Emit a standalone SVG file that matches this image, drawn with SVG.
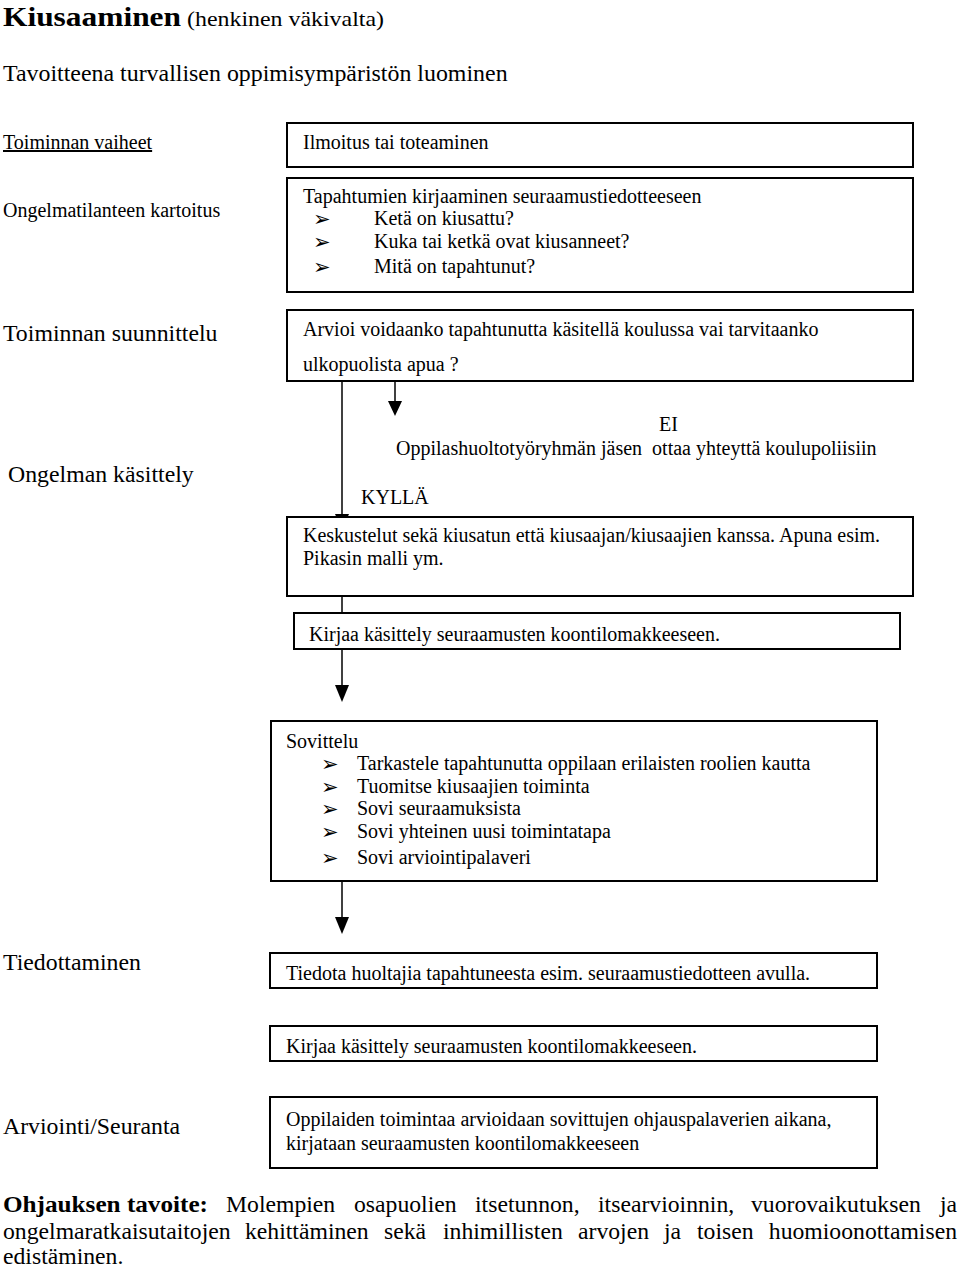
<svg xmlns="http://www.w3.org/2000/svg" width="960" height="1269" viewBox="0 0 960 1269">
<style>
text{font-family:"Liberation Serif","Times New Roman",serif;fill:#000}
.t{font-size:20px}
.l{font-size:20px}
.L{font-size:23.8px}
.p{font-size:23.7px}
.b{font-family:"DejaVu Sans",sans-serif;font-size:21px}
.box{fill:#fff;stroke:#000;stroke-width:2}
.ln{stroke:#000;stroke-width:1.5;fill:none}
.ah{fill:#000}
</style>
<defs>
<clipPath id="c5"><rect x="294" y="613" width="606" height="36"/></clipPath>
<clipPath id="c7"><rect x="270" y="953" width="607" height="35"/></clipPath>
<clipPath id="c8"><rect x="270" y="1026" width="607" height="35"/></clipPath>
</defs>
<rect width="960" height="1269" fill="#fff"/>
<g id="header">
<text x="3" y="26" font-size="28" font-weight="bold" textLength="178" lengthAdjust="spacingAndGlyphs">Kiusaaminen</text>
<text x="187" y="26" font-size="21" textLength="197" lengthAdjust="spacingAndGlyphs">(henkinen väkivalta)</text>
<text x="3" y="81" font-size="23.9">Tavoitteena turvallisen oppimisympäristön luominen</text>
</g>
<g id="labels">
<text class="l" x="3" y="149" text-decoration="underline">Toiminnan vaiheet</text>
<text class="l" x="3" y="217">Ongelmatilanteen kartoitus</text>
<text class="L" x="3" y="341">Toiminnan suunnittelu</text>
<text class="L" x="8" y="482">Ongelman käsittely</text>
<text class="L" x="3" y="970">Tiedottaminen</text>
<text class="L" x="3" y="1134">Arviointi/Seuranta</text>
</g>
<g id="connectors">
<line class="ln" x1="395" y1="381" x2="395" y2="402"/>
<polygon class="ah" points="388,401 402,401 395,416"/>
<line class="ln" x1="342" y1="381" x2="342" y2="515"/>
<polygon class="ah" points="335,514 349,514 342,530"/>
<line class="ln" x1="342" y1="596" x2="342" y2="613"/>
<line class="ln" x1="342" y1="649" x2="342" y2="686"/>
<polygon class="ah" points="335,685 349,685 342,702"/>
<line class="ln" x1="342" y1="881" x2="342" y2="918"/>
<polygon class="ah" points="335,917 349,917 342,934"/>
</g>
<g id="n1">
<rect class="box" x="287" y="123" width="626" height="44"/>
<text class="t" x="303" y="149">Ilmoitus tai toteaminen</text>
</g>
<g id="n2">
<rect class="box" x="287" y="178" width="626" height="114"/>
<text class="t" x="303" y="203">Tapahtumien kirjaaminen seuraamustiedotteeseen</text>
<text class="b" x="313" y="226">➢</text><text class="t" x="374" y="225">Ketä on kiusattu?</text>
<text class="b" x="313" y="249">➢</text><text class="t" x="374" y="248">Kuka tai ketkä ovat kiusanneet?</text>
<text class="b" x="313" y="274">➢</text><text class="t" x="374" y="273">Mitä on tapahtunut?</text>
</g>
<g id="n3">
<rect class="box" x="287" y="310" width="626" height="71"/>
<text class="t" x="303" y="336">Arvioi voidaanko tapahtunutta käsitellä koulussa vai tarvitaanko</text>
<text class="t" x="303" y="371">ulkopuolista apua ?</text>
</g>
<g id="n-ei">
<text class="t" x="659" y="431">EI</text>
<text class="t" x="396" y="455" style="white-space:pre">Oppilashuoltotyöryhmän jäsen  ottaa yhteyttä koulupoliisiin</text>
</g>
<g id="n-kylla">
<text class="t" x="361" y="504">KYLLÄ</text>
</g>
<g id="n4">
<rect class="box" x="287" y="517" width="626" height="79"/>
<text class="t" x="303" y="542">Keskustelut sekä kiusatun että kiusaajan/kiusaajien kanssa. Apuna esim.</text>
<text class="t" x="303" y="565">Pikasin malli ym.</text>
</g>
<g id="n5">
<rect class="box" x="294" y="613" width="606" height="36"/>
<text class="t" x="309" y="641" clip-path="url(#c5)">Kirjaa käsittely seuraamusten koontilomakkeeseen.</text>
</g>
<g id="n6">
<rect class="box" x="271" y="721" width="606" height="160"/>
<text class="t" x="286" y="748">Sovittelu</text>
<text class="b" x="321" y="771">➢</text><text class="t" x="357" y="770">Tarkastele tapahtunutta oppilaan erilaisten roolien kautta</text>
<text class="b" x="321" y="794">➢</text><text class="t" x="357" y="793">Tuomitse kiusaajien toiminta</text>
<text class="b" x="321" y="816">➢</text><text class="t" x="357" y="815">Sovi seuraamuksista</text>
<text class="b" x="321" y="839">➢</text><text class="t" x="357" y="838">Sovi yhteinen uusi toimintatapa</text>
<text class="b" x="321" y="865">➢</text><text class="t" x="357" y="864">Sovi arviointipalaveri</text>
</g>
<g id="n7">
<rect class="box" x="270" y="953" width="607" height="35"/>
<text class="t" x="286" y="980" clip-path="url(#c7)">Tiedota huoltajia tapahtuneesta esim. seuraamustiedotteen avulla.</text>
</g>
<g id="n8">
<rect class="box" x="270" y="1026" width="607" height="35"/>
<text class="t" x="286" y="1053" clip-path="url(#c8)">Kirjaa käsittely seuraamusten koontilomakkeeseen.</text>
</g>
<g id="n9">
<rect class="box" x="270" y="1097" width="607" height="71"/>
<text class="t" x="286" y="1126">Oppilaiden toimintaa arvioidaan sovittujen ohjauspalaverien aikana,</text>
<text class="t" x="286" y="1150">kirjataan seuraamusten koontilomakkeeseen</text>
</g>
<g id="footer">
<text class="p" x="3" y="1212" font-weight="bold" textLength="205" lengthAdjust="spacingAndGlyphs">Ohjauksen tavoite:</text>
<text class="p" x="226" y="1212">Molempien</text>
<text class="p" x="354" y="1212">osapuolien</text>
<text class="p" x="475" y="1212">itsetunnon,</text>
<text class="p" x="598" y="1212">itsearvioinnin,</text>
<text class="p" x="751" y="1212">vuorovaikutuksen</text>
<text class="p" x="957" y="1212" text-anchor="end">ja</text>
<text class="p" x="3" y="1239">ongelmaratkaisutaitojen</text>
<text class="p" x="245" y="1239">kehittäminen</text>
<text class="p" x="384" y="1239">sekä</text>
<text class="p" x="443" y="1239">inhimillisten</text>
<text class="p" x="578" y="1239">arvojen</text>
<text class="p" x="664" y="1239">ja</text>
<text class="p" x="697" y="1239">toisen</text>
<text class="p" x="957" y="1239" text-anchor="end">huomioonottamisen</text>
<text class="p" x="3" y="1264">edistäminen.</text>
</g>
</svg>
